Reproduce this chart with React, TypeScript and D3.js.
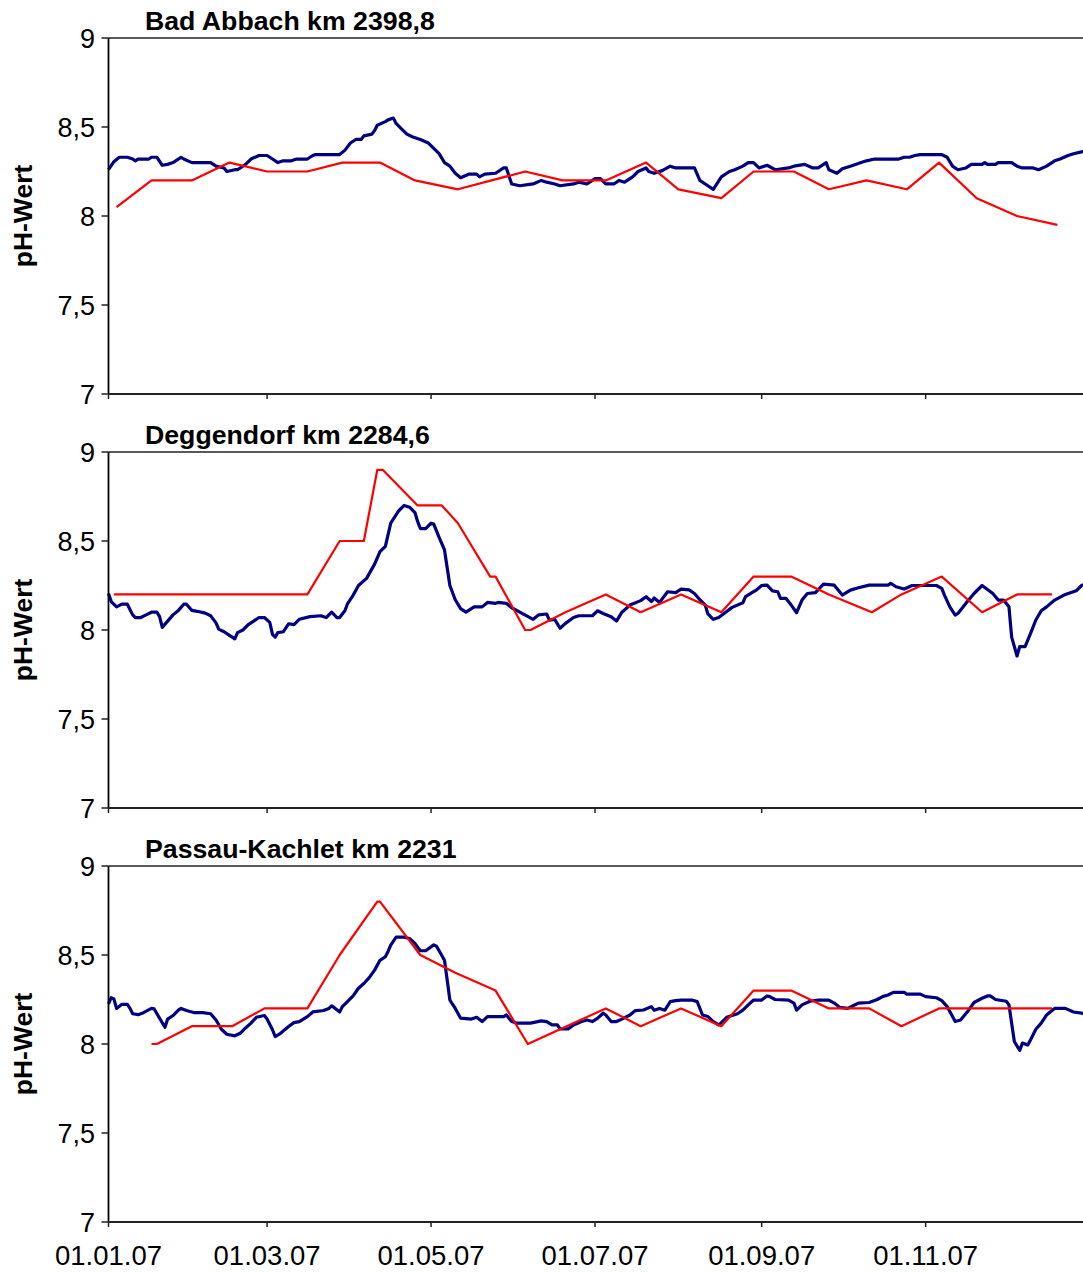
import React from "react";
import * as d3 from "d3";

// ---- data ----
const panelTitles = ["Bad Abbach km 2398,8", "Deggendorf km 2284,6", "Passau-Kachlet km 2231"];
const yAxisTitle = "pH-Wert";
const yTicks = [7, 7.5, 8, 8.5, 9];
const yTickLabels = ["7", "7,5", "8", "8,5", "9"];
const xTickDays = [0, 59, 120, 181, 243, 304];
const xTickLabels = ["01.01.07", "01.03.07", "01.05.07", "01.07.07", "01.09.07", "01.11.07"];

// [day of year 2007 (0 = 01.01.07), pH]
const abbachSamples: [number, number][] = [
  [3, 8.05], [16, 8.2], [31, 8.2], [45, 8.3], [59, 8.25], [74, 8.25], [87, 8.3], [101, 8.3], [114, 8.2],
  [130, 8.15], [155, 8.25], [169, 8.2], [185, 8.2], [200, 8.3], [212, 8.15], [228, 8.1], [240, 8.25],
  [255, 8.25], [268, 8.15], [282, 8.2], [297, 8.15], [309, 8.3], [323, 8.1], [338, 8.0], [353, 7.95],
];
const abbachDaily: [number, number][] = [
  [0, 8.26], [2, 8.305], [4, 8.33], [7, 8.33], [9, 8.32], [10, 8.31], [11, 8.32], [15, 8.32], [16, 8.33], [18, 8.33],
  [20, 8.285], [22, 8.29], [24, 8.3], [27, 8.33], [28, 8.32], [31, 8.3], [38, 8.3], [40, 8.28], [43, 8.27], [44, 8.25],
  [47, 8.26], [48, 8.26], [51, 8.29], [53, 8.32], [56, 8.34], [59, 8.34], [61, 8.32], [63, 8.3], [65, 8.31], [68, 8.31],
  [70, 8.32], [74, 8.32], [76, 8.34], [77, 8.345], [86, 8.345], [88, 8.37], [90, 8.41], [92, 8.43], [94, 8.43], [95, 8.45],
  [98, 8.46], [99, 8.48], [100, 8.51], [103, 8.53], [104, 8.54], [106, 8.55], [107, 8.52], [109, 8.49], [111, 8.46],
  [113, 8.445], [116, 8.43], [119, 8.41], [121, 8.38], [123, 8.35], [125, 8.3], [127, 8.28], [129, 8.24], [131, 8.215],
  [134, 8.235], [137, 8.235], [138, 8.22], [140, 8.235], [144, 8.24], [147, 8.27], [148, 8.27], [150, 8.18], [153, 8.17],
  [158, 8.18], [161, 8.2], [163, 8.19], [166, 8.18], [168, 8.17], [173, 8.18], [175, 8.19], [178, 8.18], [181, 8.21],
  [183, 8.21], [185, 8.18], [188, 8.18], [190, 8.2], [192, 8.19], [195, 8.22], [197, 8.25], [200, 8.27], [201, 8.25],
  [203, 8.24], [206, 8.255], [209, 8.28], [211, 8.27], [218, 8.27], [220, 8.2], [222, 8.18], [225, 8.15], [228, 8.22],
  [231, 8.25], [233, 8.26], [236, 8.28], [238, 8.3], [240, 8.3], [242, 8.27], [245, 8.285], [248, 8.26], [253, 8.27],
  [255, 8.28], [259, 8.29], [262, 8.27], [264, 8.27], [267, 8.3], [268, 8.26], [271, 8.24], [273, 8.265], [276, 8.28],
  [280, 8.3], [282, 8.31], [285, 8.32], [294, 8.32], [296, 8.33], [298, 8.33], [300, 8.34], [302, 8.345], [310, 8.345],
  [312, 8.33], [314, 8.28], [316, 8.26], [319, 8.27], [321, 8.29], [325, 8.29], [326, 8.3], [327, 8.29], [330, 8.29],
  [331, 8.3], [336, 8.3], [338, 8.28], [340, 8.27], [344, 8.27], [346, 8.26], [349, 8.28], [352, 8.31], [354, 8.32],
  [357, 8.34], [359, 8.35], [362, 8.36], [364, 8.37],
];

const deggendorfSamples: [number, number][] = [
  [2, 8.2], [74, 8.2], [86, 8.5], [95, 8.5], [100, 8.9], [102, 8.9], [115, 8.7], [124, 8.7], [130, 8.6], [142, 8.3],
  [144, 8.3], [155, 8.0], [157, 8.0], [170, 8.1], [185, 8.2], [198, 8.1], [213, 8.2], [228, 8.1], [240, 8.3], [254, 8.3],
  [268, 8.2], [284, 8.1], [295, 8.2], [310, 8.3], [325, 8.1], [338, 8.2], [351, 8.2],
];
const deggendorfDaily: [number, number][] = [
  [0, 8.205], [1, 8.16], [3, 8.13], [5, 8.145], [7, 8.145], [9, 8.085], [10, 8.07], [12, 8.07], [14, 8.085], [16, 8.1],
  [18, 8.1], [19, 8.075], [20, 8.015], [22, 8.05], [24, 8.085], [26, 8.11], [28, 8.145], [29, 8.145], [31, 8.11],
  [33, 8.105], [36, 8.095], [38, 8.08], [40, 8.04], [41, 8.005], [43, 7.99], [45, 7.97], [47, 7.95], [48, 7.985],
  [50, 8.0], [52, 8.03], [54, 8.05], [56, 8.07], [58, 8.07], [60, 8.043], [61, 7.975], [62, 7.96], [63, 7.985], [65, 7.99],
  [67, 8.035], [69, 8.03], [71, 8.06], [75, 8.075], [79, 8.08], [81, 8.07], [83, 8.1], [85, 8.07], [86, 8.07], [88, 8.11],
  [89, 8.15], [91, 8.195], [93, 8.25], [96, 8.29], [99, 8.37], [101, 8.44], [103, 8.47], [105, 8.6], [108, 8.67],
  [110, 8.7], [112, 8.69], [114, 8.66], [115, 8.61], [116, 8.57], [118, 8.57], [120, 8.6], [121, 8.595], [123, 8.52],
  [125, 8.45], [127, 8.25], [129, 8.17], [131, 8.12], [133, 8.1], [136, 8.13], [139, 8.13], [141, 8.155], [144, 8.15],
  [145, 8.155], [148, 8.15], [150, 8.125], [153, 8.1], [158, 8.06], [160, 8.085], [163, 8.09], [164, 8.055], [166, 8.06],
  [168, 8.01], [170, 8.037], [173, 8.07], [175, 8.08], [180, 8.08], [182, 8.108], [184, 8.093], [187, 8.075], [189, 8.05],
  [191, 8.1], [194, 8.14], [198, 8.165], [200, 8.187], [202, 8.16], [203, 8.18], [205, 8.155], [208, 8.215], [211, 8.21],
  [213, 8.23], [216, 8.225], [218, 8.205], [220, 8.17], [222, 8.14], [223, 8.09], [225, 8.06], [227, 8.07], [229, 8.093],
  [232, 8.127], [236, 8.153], [237, 8.187], [240, 8.215], [241, 8.224], [243, 8.25], [245, 8.252], [247, 8.22],
  [249, 8.215], [250, 8.178], [252, 8.178], [254, 8.14], [256, 8.097], [258, 8.168], [260, 8.205], [263, 8.21],
  [266, 8.258], [270, 8.252], [273, 8.196], [276, 8.224], [279, 8.237], [283, 8.252], [290, 8.252], [291, 8.262],
  [293, 8.243], [296, 8.23], [299, 8.25], [308, 8.25], [310, 8.234], [311, 8.196], [313, 8.13], [315, 8.084], [316, 8.093],
  [319, 8.15], [322, 8.205], [325, 8.25], [329, 8.205], [331, 8.168], [333, 8.168], [335, 8.13], [336, 7.96], [338, 7.854],
  [339, 7.907], [341, 7.907], [343, 7.98], [345, 8.056], [347, 8.108], [349, 8.13], [352, 8.168], [356, 8.2], [360, 8.22],
  [362, 8.25], [364, 8.26],
];

const passauSamples: [number, number][] = [
  [16, 8.0], [18, 8.0], [31, 8.1], [46, 8.1], [58, 8.2], [74, 8.2], [86, 8.5], [100, 8.8], [101, 8.8], [116, 8.5],
  [129, 8.4], [144, 8.3], [156, 8.0], [185, 8.2], [198, 8.1], [213, 8.2], [228, 8.1], [240, 8.3], [254, 8.3], [268, 8.2],
  [283, 8.2], [295, 8.1], [309, 8.2], [351, 8.2],
];
const passauDaily: [number, number][] = [
  [0, 8.225], [1, 8.26], [2, 8.253], [3, 8.2], [5, 8.223], [7, 8.223], [8, 8.2], [9, 8.17], [11, 8.165], [13, 8.176],
  [16, 8.2], [17, 8.197], [19, 8.145], [21, 8.094], [22, 8.14], [24, 8.16], [26, 8.19], [27, 8.2], [29, 8.188],
  [32, 8.176], [35, 8.176], [38, 8.17], [40, 8.135], [42, 8.083], [44, 8.055], [47, 8.046], [49, 8.06], [51, 8.09],
  [53, 8.117], [55, 8.15], [58, 8.16], [59, 8.14], [61, 8.08], [62, 8.042], [64, 8.06], [67, 8.098], [69, 8.12],
  [71, 8.126], [74, 8.154], [76, 8.18], [80, 8.188], [82, 8.2], [83, 8.214], [84, 8.204], [86, 8.18], [87, 8.21],
  [89, 8.24], [91, 8.27], [93, 8.313], [95, 8.34], [97, 8.373], [99, 8.415], [101, 8.47], [103, 8.49], [104, 8.52],
  [105, 8.556], [107, 8.6], [110, 8.6], [112, 8.593], [114, 8.565], [116, 8.524], [118, 8.524], [121, 8.557], [122, 8.55],
  [123, 8.524], [125, 8.47], [126, 8.36], [127, 8.247], [129, 8.2], [131, 8.145], [135, 8.14], [137, 8.15], [139, 8.126],
  [141, 8.154], [147, 8.154], [148, 8.163], [150, 8.126], [152, 8.117], [157, 8.117], [161, 8.13], [163, 8.126],
  [165, 8.107], [167, 8.107], [168, 8.085], [171, 8.085], [173, 8.107], [176, 8.126], [178, 8.135], [180, 8.126],
  [182, 8.145], [184, 8.173], [185, 8.163], [187, 8.126], [189, 8.126], [191, 8.14], [194, 8.163], [196, 8.188],
  [199, 8.191], [202, 8.21], [203, 8.19], [205, 8.2], [207, 8.19], [209, 8.238], [211, 8.244], [213, 8.247], [217, 8.247],
  [219, 8.238], [221, 8.163], [223, 8.154], [225, 8.126], [227, 8.107], [228, 8.12], [230, 8.15], [234, 8.17],
  [236, 8.19], [238, 8.22], [240, 8.247], [243, 8.247], [245, 8.27], [246, 8.266], [248, 8.25], [253, 8.247], [255, 8.23],
  [256, 8.19], [258, 8.22], [261, 8.24], [264, 8.247], [268, 8.247], [270, 8.23], [272, 8.206], [275, 8.2], [277, 8.215],
  [279, 8.23], [283, 8.233], [286, 8.25], [288, 8.266], [290, 8.275], [292, 8.29], [296, 8.29], [297, 8.28], [302, 8.28],
  [304, 8.266], [308, 8.26], [310, 8.244], [312, 8.21], [314, 8.154], [315, 8.126], [317, 8.135], [320, 8.19],
  [322, 8.233], [325, 8.257], [327, 8.27], [328, 8.27], [330, 8.25], [334, 8.24], [335, 8.22], [336, 8.117], [337, 8.014],
  [339, 7.964], [340, 8.005], [342, 7.995], [343, 8.023], [345, 8.083], [347, 8.117], [349, 8.163], [351, 8.188],
  [352, 8.2], [356, 8.2], [359, 8.18], [362, 8.173], [364, 8.17],
];

const dailySeries = [abbachDaily, deggendorfDaily, passauDaily];
const sampleSeries = [abbachSamples, deggendorfSamples, passauSamples];

// ---- layout ----
const W = 1083;
const H = 1272;
const panelTops = [38, 452, 866];
const panelH = 356;
const left = 108.5;
const FONT = "'Liberation Sans', Arial, Helvetica, sans-serif";

const start = Date.UTC(2007, 0, 1);
const toDate = (d: number) => new Date(start + d * 86400000);
const x = d3.scaleUtc().domain([toDate(0), toDate(365)]).range([left, 1089.6]);

export default function App() {
  return (
    <svg
      width={W}
      height={H}
      viewBox={`0 0 ${W} ${H}`}
      style={{ position: "absolute", left: 0, top: 0, background: "#fff", display: "block" }}
    >
      <rect x={0} y={0} width={W} height={H} fill="#fff" />
      {panelTops.map((top, i) => {
        const y = d3.scaleLinear().domain([7, 9]).range([top + panelH, top]);
        const line = d3
          .line<[number, number]>()
          .x((d) => x(toDate(d[0])))
          .y((d) => y(d[1]));
        const bottom = top + panelH;
        return (
          <g key={i}>
            <text
              x={145}
              y={top - 8}
              fontFamily={FONT}
              fontWeight="bold"
              fontSize={26.7}
              fill="#000"
            >
              {panelTitles[i]}
            </text>
            <text
              transform={`translate(32,${(top + bottom) / 2}) rotate(-90)`}
              textAnchor="middle"
              fontFamily={FONT}
              fontWeight="bold"
              fontSize={26.5}
              fill="#000"
            >
              {yAxisTitle}
            </text>
            {/* top border */}
            <line x1={left} x2={W} y1={y(9)} y2={y(9)} stroke="#222" strokeWidth={1.5} />
            {/* data */}
            <path d={line(dailySeries[i]) || ""} fill="none" stroke="#000080" strokeWidth={3.2} strokeLinejoin="round" />
            <path d={line(sampleSeries[i]) || ""} fill="none" stroke="#ff0000" strokeWidth={2.2} strokeLinejoin="round" />
            {/* y axis */}
            <line x1={left} x2={left} y1={top} y2={bottom} stroke="#000" strokeWidth={1.8} />
            {yTicks.map((t, k) => (
              <g key={k}>
                <line x1={left - 7} x2={left} y1={y(t)} y2={y(t)} stroke="#222" strokeWidth={1.5} />
                <text
                  x={95}
                  y={y(t) + 9.5}
                  textAnchor="end"
                  fontFamily={FONT}
                  fontSize={27}
                  fill="#000"
                >
                  {yTickLabels[k]}
                </text>
              </g>
            ))}
            {/* x axis */}
            <line x1={left} x2={W} y1={bottom} y2={bottom} stroke="#222" strokeWidth={1.8} />
            {xTickDays.map((d, k) => (
              <g key={k}>
                <line x1={x(toDate(d))} x2={x(toDate(d))} y1={bottom} y2={bottom + 5} stroke="#222" strokeWidth={1.5} />
                {i === 2 && (
                  <text
                    x={x(toDate(d))}
                    y={bottom + 43}
                    textAnchor="middle"
                    fontFamily={FONT}
                    fontSize={27.5}
                    fill="#000"
                  >
                    {xTickLabels[k]}
                  </text>
                )}
              </g>
            ))}
          </g>
        );
      })}
    </svg>
  );
}
